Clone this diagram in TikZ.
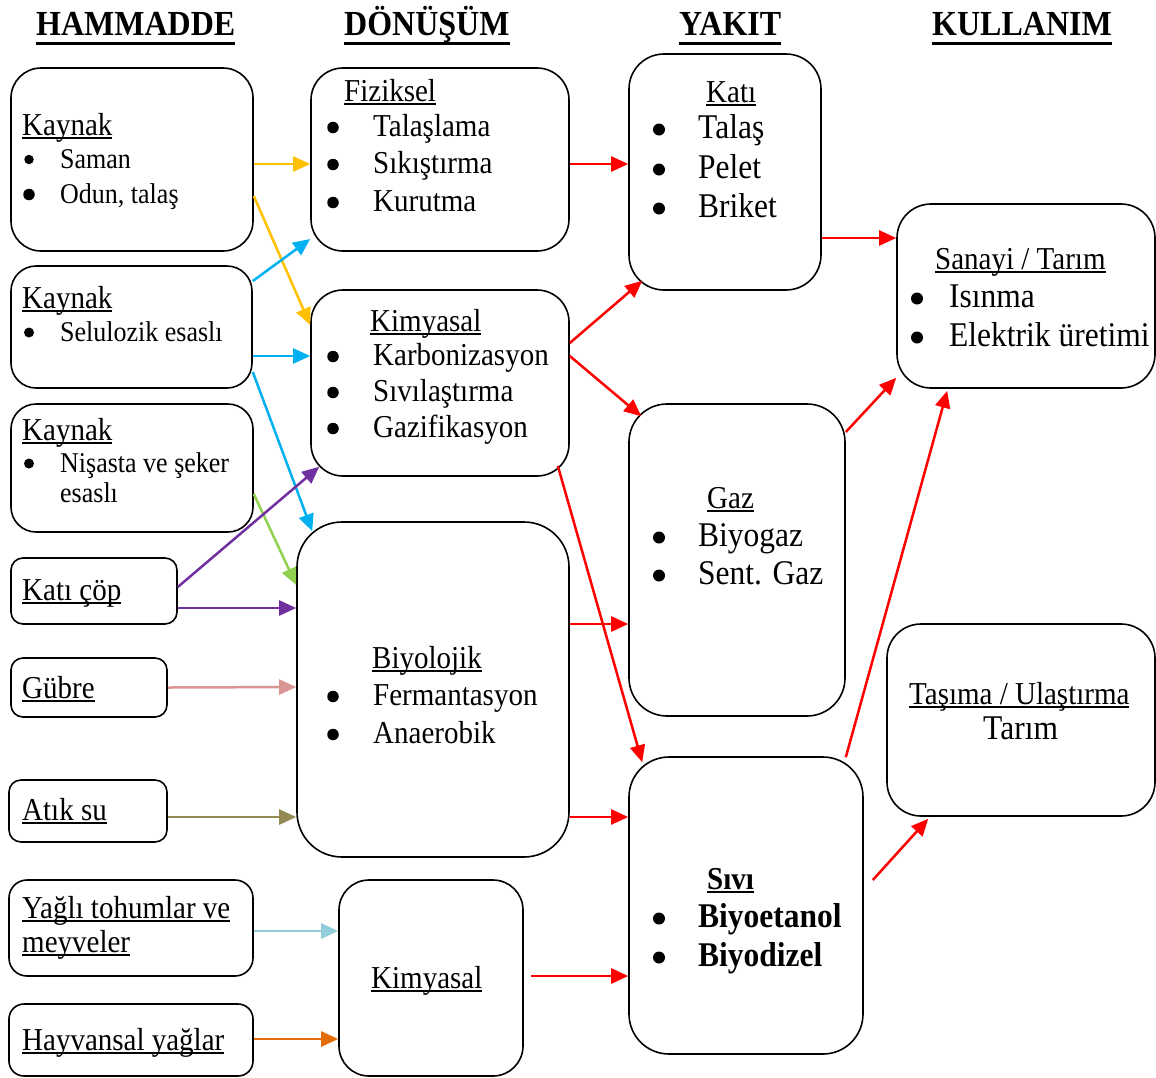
\documentclass[tikz,border=0pt]{standalone}
\usepackage{fontspec}
\setmainfont{Liberation Serif}
\usetikzlibrary{arrows.meta}

\definecolor{cyel}{HTML}{FFC000}
\definecolor{cblu}{HTML}{00B0F0}
\definecolor{cgrn}{HTML}{92D050}
\definecolor{cpur}{HTML}{7030A0}
\definecolor{cpnk}{HTML}{DA9694}
\definecolor{coli}{HTML}{948A54}
\definecolor{clbl}{HTML}{92CDDC}
\definecolor{corg}{HTML}{E36C09}
\definecolor{cred}{HTML}{FF0000}

% underlined words with a rule at a fixed depth
\newsavebox\ulbox
\newcommand\ulx[1]{\sbox\ulbox{#1}\rlap{\rule[-4pt]{\wd\ulbox}{1.8pt}}\usebox\ulbox}
\newcommand\ulhead[1]{\sbox\ulbox{#1}\rlap{\rule[-9.5pt]{\wd\ulbox}{3.2pt}}\usebox\ulbox}

\tikzset{
  box/.style={draw=black, line width=1.6pt, rounded corners=#1, inner sep=0pt},
  txt/.style={inner sep=0pt, anchor=base west, yscale=1.1, font=\fontsize{29}{35}\selectfont},
  sm/.style={txt, font=\fontsize{26}{31}\selectfont},
  lg/.style={txt, font=\fontsize{31.5}{38}\selectfont},
  hd/.style={txt, font=\fontsize{32}{38}\selectfont\bfseries},
  % list bullets, placed by the baseline of their line
  dot/.style={circle, fill=black, inner sep=0pt, minimum size=#1, yshift=8.5pt},
  dot/.default=11.5pt,
  ar/.style={line width=2.5pt, -{Triangle[length=17pt,width=15pt]}},
}

\begin{document}
\begin{tikzpicture}[x=1pt, y=-1pt]
\useasboundingbox (0,0) rectangle (1156,1077);

% column titles
\node[hd] (h1) at (36,35)  {\ulhead{HAMMADDE}};
\node[hd] (h2) at (344,35) {\ulhead{DÖNÜŞÜM}};
\node[hd] (h3) at (679,35) {\ulhead{YAKIT}};
\node[hd] (h4) at (932,35) {\ulhead{KULLANIM}};

% raw material boxes
\node[box=30pt, minimum width=242pt, minimum height=183pt] (k1) at (132,159.5) {};
\node[box=25pt, minimum width=241pt, minimum height=122pt] (k2) at (131.5,327) {};
\node[box=25pt, minimum width=242pt, minimum height=128pt] (k3) at (132,468) {};
\node[box=12pt, minimum width=166pt, minimum height=66pt] (cop) at (94,591) {};
\node[box=12pt, minimum width=156pt, minimum height=59pt] (gub) at (89,687.5) {};
\node[box=12pt, minimum width=158pt, minimum height=62pt] (atk) at (88,811) {};
\node[box=18pt, minimum width=244pt, minimum height=96pt] (yag) at (131,928) {};
\node[box=15pt, minimum width=244pt, minimum height=72pt] (hay) at (131,1040) {};

% conversion boxes
\node[box=32pt, minimum width=258pt, minimum height=183pt] (fiz) at (440,159.5) {};
\node[box=32pt, minimum width=258pt, minimum height=186pt] (kimA) at (440,383) {};
\node[box=45pt, minimum width=272pt, minimum height=335pt] (biy) at (433,689.5) {};
\node[box=30pt, minimum width=184pt, minimum height=196pt] (kimB) at (431,978) {};

% fuel boxes
\node[box=35pt, minimum width=192pt, minimum height=236pt] (kati) at (725,172) {};
\node[box=38pt, minimum width=216pt, minimum height=312pt] (gaz) at (737,560) {};
\node[box=40pt, minimum width=234pt, minimum height=297pt] (sivi) at (746,905.5) {};

% use boxes
\node[box=34pt, minimum width=258pt, minimum height=184pt] (san) at (1026,296) {};
\node[box=34pt, minimum width=268pt, minimum height=192pt] (tas) at (1021,720) {};

% raw material texts
\node[txt] (tk1) at (22,135) {\ulx{Kaynak}};
\node[dot=9.5pt] (bk1a) at (29,168) {};
\node[sm] (ik1a) at (60,168) {Saman};
\node[dot=11.5pt] (bk1b) at (29,203) {};
\node[sm] (ik1b) at (60,203) {Odun, talaş};

\node[txt] (tk2) at (22,308) {\ulx{Kaynak}};
\node[dot=10pt] (bk2) at (29,341) {};
\node[sm] (ik2) at (60,341) {Selulozik esaslı};

\node[txt] (tk3) at (22,440) {\ulx{Kaynak}};
\node[dot=10pt] (bk3) at (29,472) {};
\node[sm] (ik3a) at (60,472) {Nişasta ve şeker};
\node[sm] (ik3b) at (60,502) {esaslı};

\node[txt] (tcop) at (22,600) {\ulx{Katı çöp}};
\node[txt] (tgub) at (22,698) {\ulx{Gübre}};
\node[txt] (tatk) at (22,820) {\ulx{Atık su}};
\node[txt] (tyag1) at (22,918) {\ulx{Yağlı tohumlar ve}};
\node[txt] (tyag2) at (22,952) {\ulx{meyveler}};
\node[txt] (thay) at (22,1050) {\ulx{Hayvansal yağlar}};

% conversion texts
\node[txt] (tfiz) at (344,101) {\ulx{Fiziksel}};
\node[dot] (bf1) at (333,136) {};
\node[txt] (if1) at (373,136) {Talaşlama};
\node[dot] (bf2) at (333,173) {};
\node[txt] (if2) at (373,173) {Sıkıştırma};
\node[dot] (bf3) at (333,211) {};
\node[txt] (if3) at (373,211) {Kurutma};

\node[txt] (tkimA) at (370,331) {\ulx{Kimyasal}};
\node[dot] (bc1) at (333,365) {};
\node[txt] (ic1) at (373,365) {Karbonizasyon};
\node[dot] (bc2) at (333,401) {};
\node[txt] (ic2) at (373,401) {Sıvılaştırma};
\node[dot] (bc3) at (333,437) {};
\node[txt] (ic3) at (373,437) {Gazifikasyon};

\node[txt] (tbiy) at (372,668) {\ulx{Biyolojik}};
\node[dot] (bb1) at (333,705) {};
\node[txt] (ib1) at (373,705) {Fermantasyon};
\node[dot] (bb2) at (333,743) {};
\node[txt] (ib2) at (373,743) {Anaerobik};

\node[txt] (tkimB) at (371,988) {\ulx{Kimyasal}};

% fuel texts
\node[txt] (tkati) at (706,102) {\ulx{Katı}};
\node[dot=12pt] (bk1) at (659,138) {};
\node[lg] (ik1) at (698,138) {Talaş};
\node[dot=12pt] (bk2x) at (659,178) {};
\node[lg] (ik2x) at (698,178) {Pelet};
\node[dot=12pt] (bk3x) at (659,217) {};
\node[lg] (ik3x) at (698,217) {Briket};

\node[txt] (tgaz) at (707,508) {\ulx{Gaz}};
\node[dot=12pt] (bg1) at (659,546) {};
\node[lg] (ig1) at (698,546) {Biyogaz};
\node[dot=12pt] (bg2) at (659,584) {};
\node[lg] (ig2) at (698,584) {Sent. Gaz};

\node[txt] (tsivi) at (707,889) {\bfseries\ulx{Sıvı}};
\node[dot=12pt] (bs1) at (659,927) {};
\node[lg] (is1) at (698,927) {\bfseries Biyoetanol};
\node[dot=12pt] (bs2) at (659,966) {};
\node[lg] (is2) at (698,966) {\bfseries Biyodizel};

% use texts
\node[txt] (tsan) at (935,269) {\ulx{Sanayi / Tarım}};
\node[dot=12pt] (bu1) at (917,307) {};
\node[lg] (iu1) at (949,307) {Isınma};
\node[dot=12pt] (bu2) at (917,346) {};
\node[lg] (iu2) at (949,346) {Elektrik üretimi};

\node[txt] (ttas) at (909,704) {\ulx{Taşıma / Ulaştırma}};
\node[lg] (itas) at (983,739) {Tarım};

% raw material -> conversion
\draw[ar, cyel] ([yshift=-4.5pt]k1.east) -- ([yshift=-4.5pt]fiz.west);
\draw[ar, cyel] ([yshift=-36.5pt]k1.east) -- ([yshift=58pt]kimA.west);
\draw[ar, cblu] ([yshift=46pt]k2.east) -- ([yshift=-79.5pt]fiz.west);
\draw[ar, cblu] ([yshift=-29pt]k2.east) -- ([yshift=27pt]kimA.west);
\draw[ar, cblu] ([yshift=-45pt]k2.east) -- ([shift={(16pt,-10pt)}]biy.north west);
\draw[ar, cgrn] ([yshift=-26pt]k3.east) -- ([yshift=104.5pt]biy.west);
\draw[ar, cpur] ([yshift=4pt]cop.east) -- ([shift={(9pt,10pt)}]kimA.south west);
\draw[ar, cpur] ([yshift=-17pt]cop.east) -- ([yshift=81.5pt]biy.west);
\draw[ar, cpnk] (gub.east) -- ([yshift=2.5pt]biy.west);
\draw[ar, coli] ([yshift=-6pt]atk.east) -- ([yshift=-127.5pt]biy.west);
\draw[ar, clbl] ([yshift=-3pt]yag.east) -- ([yshift=47pt]kimB.west);
\draw[ar, corg] ([yshift=1pt]hay.east) -- ([yshift=-61pt]kimB.west);

% conversion -> fuel
\draw[ar, cred] ([yshift=-4.5pt]fiz.east) -- ([yshift=8pt]kati.west);
\draw[ar, cred] ([yshift=40pt]kimA.east) -- ([shift={(14pt,10pt)}]kati.south west);
\draw[ar, cred] ([yshift=27pt]kimA.east) -- ([shift={(13pt,-13pt)}]gaz.north west);
\draw[ar, cred] ([shift={(-12pt,11pt)}]kimA.south east) -- ([shift={(14pt,-6pt)}]sivi.north west);
\draw[ar, cred] ([yshift=65.5pt]biy.east) -- ([yshift=-64pt]gaz.west);
\draw[ar, cred] ([yshift=-127.5pt]biy.east) -- ([yshift=88.5pt]sivi.west);
\draw[ar, cred] ([shift={(7pt,2pt)}]kimB.east) -- ([yshift=-70.5pt]sivi.west);

% fuel -> use
\draw[ar, cred] ([yshift=-66pt]kati.east) -- ([yshift=58pt]san.west);
\draw[ar, cred] ([yshift=128pt]gaz.east) -- ([yshift=11pt]san.south west);
\draw[ar, cred] ([shift={(-18pt,-1pt)}]sivi.north east) -- ([shift={(51pt,-2pt)}]san.south west);
\draw[ar, cred] ([shift={(9pt,25.5pt)}]sivi.east) -- ([shift={(42pt,-2pt)}]tas.south west);
\end{tikzpicture}
\end{document}
